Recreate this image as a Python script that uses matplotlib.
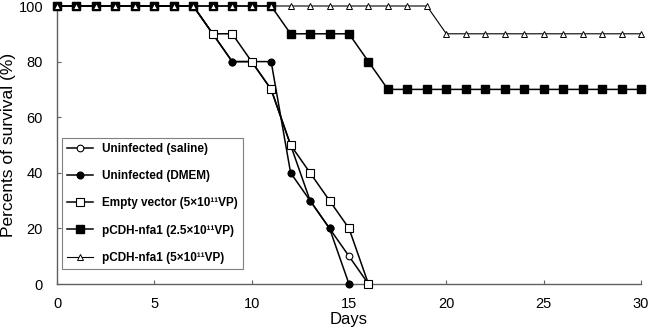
import matplotlib
matplotlib.use("Agg")
import matplotlib.pyplot as plt

plt.rcParams['font.family'] = ['Liberation Sans', 'DejaVu Sans']

days_saline = list(range(0, 17))
saline = [100]*8 + [90, 80, 80, 70, 50, 30, 20, 10, 0]
days_dmem = list(range(0, 16))
dmem = [100]*8 + [90, 80, 80, 80, 40, 30, 20, 0]
days_empty = list(range(0, 17))
empty = [100]*8 + [90, 90, 80, 70, 50, 40, 30, 20, 0]
days_long = list(range(0, 31))
nfa_low = [100]*12 + [90]*4 + [80] + [70]*14
nfa_high = [100]*20 + [90]*11

labels = ["Uninfected (saline)", "Uninfected (DMEM)",
          "Empty vector (5×10¹¹VP)", "pCDH-nfa1 (2.5×10¹¹VP)",
          "pCDH-nfa1 (5×10¹¹VP)"]

fig = plt.figure(figsize=(6.5, 3.31), dpi=100)
ax = fig.add_axes([57/650, 1-284/331, (641-57)/650, (284-6)/331])

lw = 1.1
h_sal, = ax.plot(days_saline, saline, color='black', lw=lw, marker='o', ms=4.8, mfc='white', mec='black', mew=0.8, clip_on=False, zorder=3)
h_dm, = ax.plot(days_dmem, dmem, color='black', lw=lw, marker='o', ms=4.8, mfc='black', mec='black', clip_on=False, zorder=4)
h_ev, = ax.plot(days_empty, empty, color='black', lw=lw, marker='s', ms=5.2, mfc='white', mec='black', mew=0.8, clip_on=False, zorder=5)
h_lo, = ax.plot(days_long, nfa_low, color='black', lw=lw, marker='s', ms=5.2, mfc='black', mec='black', clip_on=False, zorder=6)
h_hi, = ax.plot(days_long, nfa_high, color='black', lw=0.8, marker='^', ms=4.3, mfc='white', mec='black', mew=0.7, clip_on=False, zorder=7)

ax.set_xlim(0, 30)
ax.set_ylim(0, 100)
ax.set_xticks([0, 5, 10, 15, 20, 25, 30])
ax.set_yticks([0, 20, 40, 60, 80, 100])
ax.spines['top'].set_visible(False)
ax.spines['right'].set_visible(False)
for s in ('left', 'bottom'):
    ax.spines[s].set_color('#606060')
    ax.spines[s].set_linewidth(1.0)
ax.tick_params(axis='x', direction='in', length=3, color='#606060', labelsize=10.5, pad=9)
ax.tick_params(axis='y', direction='in', length=3, color='#606060', labelsize=10.5, pad=10)
ax.set_xlabel("Days", fontsize=12)
ax.xaxis.set_label_coords(0.5, (284 - 312) / 278)
ax.set_ylabel("Percents of survival (%)", fontsize=12.5)
ax.yaxis.set_label_coords((16 - 57) / 584, 0.5)

leg = ax.legend([h_sal, h_dm, h_ev, h_lo, h_hi], labels,
                loc='lower left', bbox_to_anchor=(5/584, 15/278),
                frameon=True, fancybox=False, edgecolor='#606060',
                prop={'weight': 'bold', 'size': 8.5}, handlelength=2.2,
                labelspacing=1.28, borderpad=0.45, handletextpad=0.7,
                borderaxespad=0)
leg.get_frame().set_linewidth(0.8)

fig.savefig("out.png", dpi=100)
